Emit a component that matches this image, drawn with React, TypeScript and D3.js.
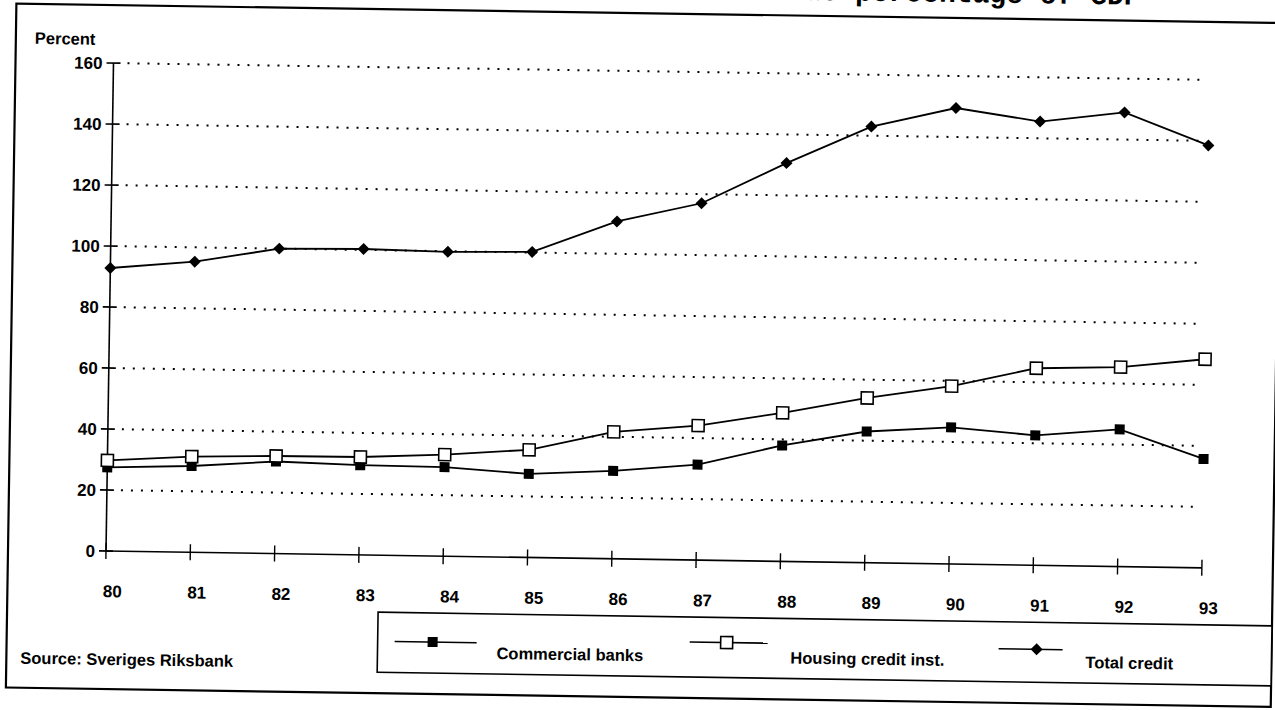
import React from "react";
import * as d3 from "d3";

// ---- data ----
const years = ["80", "81", "82", "83", "84", "85", "86", "87", "88", "89", "90", "91", "92", "93"];
const commercialBanks = [27.4, 28.3, 30.2, 29.4, 29.2, 27.4, 28.8, 31.3, 38, 43, 44.8, 42.6, 45, 35.7];
const housingCredit = [29.7, 31.4, 32, 32.1, 33.3, 35.3, 41.6, 44.1, 48.7, 54, 58.3, 64.6, 65.4, 68.4];
const totalCredit = [92.8, 95.3, 100, 100.3, 99.8, 100.2, 110.6, 117, 130.6, 143, 149.5, 145.5, 148.9, 138.5];
const yTicks = [0, 20, 40, 60, 80, 100, 120, 140, 160];
const seriesNames = ["Commercial banks", "Housing credit inst.", "Total credit"];
const yLabel = "Percent";
const sourceText = "Source: Sveriges Riksbank";
const titleFragment = "Credit as percentage of GDP";

const W = 1275;
const H = 710;
const FONT = "'Liberation Sans', Arial, Helvetica, sans-serif";

export default function App() {
  const x0 = 106;
  const x1 = 1202;
  const yBase = 551;
  const yTop = 63;
  const x = d3.scalePoint<string>().domain(years).range([x0, x1]);
  const y = d3.scaleLinear().domain([0, 160]).range([yBase, yTop]);

  const line = d3
    .line<number>()
    .x((_, i) => x(years[i]) as number)
    .y((d) => y(d));

  const diamond = (cx: number, cy: number, r: number) =>
    `M${cx},${cy - r}L${cx + r},${cy}L${cx},${cy + r}L${cx - r},${cy}Z`;

  const sqFilled = (cx: number, cy: number, k: string) => (
    <rect key={k} x={cx - 5} y={cy - 5} width={10} height={10} fill="#000" />
  );
  const sqOpen = (cx: number, cy: number, k: string) => (
    <rect key={k} x={cx - 6} y={cy - 6} width={12} height={12} fill="#fff" stroke="#000" strokeWidth={1.6} />
  );
  const dia = (cx: number, cy: number, k: string) => (
    <path key={k} d={diamond(cx, cy, 6)} fill="#000" />
  );

  return (
    <svg
      width={W}
      height={H}
      viewBox={`0 0 ${W} ${H}`}
      style={{ position: "absolute", left: 0, top: 0, display: "block", background: "#fff" }}
    >
      <rect x={0} y={0} width={W} height={H} fill="#fff" />
      <g transform={`rotate(0.88, ${x0}, ${yBase})`}>
        {/* cut-off title */}
        <text
          x={1132}
          y={-11}
          textAnchor="end"
          fontFamily="'Liberation Mono', 'Courier New', monospace"
          fontWeight="bold"
          fontSize={28}
          fill="#000"
        >
          {titleFragment}
        </text>

        {/* outer frame */}
        <rect x={8} y={5} width={1265} height={684} fill="none" stroke="#000" strokeWidth={2.2} />

        {/* y label */}
        <text x={27} y={45} fontFamily={FONT} fontWeight="bold" fontSize={16.5} fill="#000">
          {yLabel}
        </text>

        {/* gridlines */}
        {yTicks
          .filter((t) => t > 0)
          .map((t) => (
            <line
              key={"g" + t}
              x1={120}
              x2={1200}
              y1={y(t)}
              y2={y(t)}
              stroke="#000"
              strokeWidth={2}
              strokeDasharray="2 8"
            />
          ))}

        {/* y axis */}
        <line x1={x0} x2={x0} y1={yTop} y2={yBase} stroke="#000" strokeWidth={1.6} />
        {yTicks.map((t) => (
          <g key={"yt" + t}>
            <line x1={x0 - 7} x2={x0 + 7} y1={y(t)} y2={y(t)} stroke="#000" strokeWidth={1.6} />
            <text
              x={x0 - 11}
              y={y(t)}
              dy="0.36em"
              textAnchor="end"
              fontFamily={FONT}
              fontWeight="bold"
              fontSize={17}
              fill="#000"
            >
              {t}
            </text>
          </g>
        ))}

        {/* x axis */}
        <line x1={x0} x2={x1} y1={yBase} y2={yBase} stroke="#000" strokeWidth={1.6} />
        {years.map((yr) => (
          <g key={"xt" + yr}>
            <line
              x1={x(yr) as number}
              x2={x(yr) as number}
              y1={yBase - 8}
              y2={yBase + 8}
              stroke="#000"
              strokeWidth={1.4}
            />
            <text
              x={(x(yr) as number) + 7}
              y={yBase + 40}
              dy="0.36em"
              textAnchor="middle"
              fontFamily={FONT}
              fontWeight="bold"
              fontSize={17}
              fill="#000"
            >
              {yr}
            </text>
          </g>
        ))}

        {/* series lines */}
        <path d={line(totalCredit) || ""} fill="none" stroke="#000" strokeWidth={1.8} />
        <path d={line(housingCredit) || ""} fill="none" stroke="#000" strokeWidth={1.8} />
        <path d={line(commercialBanks) || ""} fill="none" stroke="#000" strokeWidth={1.8} />

        {/* markers */}
        {commercialBanks.map((v, i) => sqFilled(x(years[i]) as number, y(v), "c" + i))}
        {housingCredit.map((v, i) => sqOpen(x(years[i]) as number, y(v), "h" + i))}
        {totalCredit.map((v, i) => dia(x(years[i]) as number, y(v), "t" + i))}

        {/* source */}
        <text x={22} y={659} dy="0.36em" fontFamily={FONT} fontWeight="bold" fontSize={16.5} fill="#000">
          {sourceText}
        </text>

        {/* legend */}
        <rect x={379} y={608} width={894} height={60} fill="#fff" stroke="#000" strokeWidth={1.6} />
        <line x1={396} x2={478} y1={637} y2={637} stroke="#000" strokeWidth={1.6} />
        {sqFilled(434, 637, "lc")}
        <text x={498} y={647} dy="0.36em" fontFamily={FONT} fontWeight="bold" fontSize={16.5} fill="#000">
          {seriesNames[0]}
        </text>
        <line x1={691} x2={769} y1={633} y2={633} stroke="#000" strokeWidth={1.6} />
        {sqOpen(728, 633, "lh")}
        <text x={792} y={647} dy="0.36em" fontFamily={FONT} fontWeight="bold" fontSize={16.5} fill="#000">
          {seriesNames[1]}
        </text>
        <line x1={1000} x2={1064} y1={635} y2={635} stroke="#000" strokeWidth={1.6} />
        {dia(1038, 635, "lt")}
        <text x={1087} y={647} dy="0.36em" fontFamily={FONT} fontWeight="bold" fontSize={16.5} fill="#000">
          {seriesNames[2]}
        </text>
      </g>
    </svg>
  );
}
